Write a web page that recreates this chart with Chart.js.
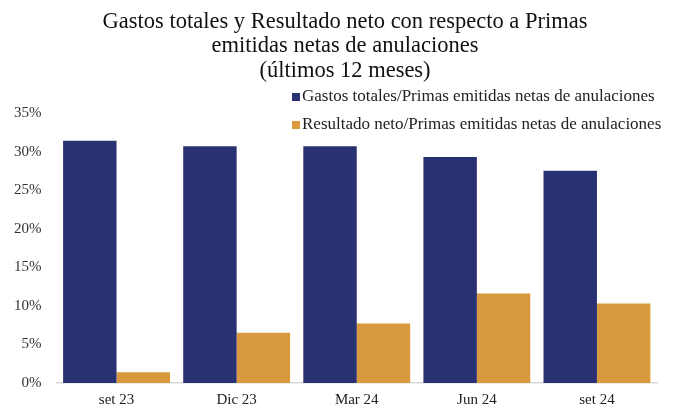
<!DOCTYPE html>
<html>
<head>
<meta charset="utf-8">
<script src="https://cdn.jsdelivr.net/npm/chart.js@4.4.1/dist/chart.umd.min.js"></script>
<style>
  html, body { margin: 0; padding: 0; background: #fff; }
  #wrap { position: relative; width: 683px; height: 413px; }
</style>
</head>
<body>
<div id="wrap"><canvas id="grafica" width="683" height="413"></canvas></div>
<script>
// Datos del gráfico
const categorias = ['set 23', 'Dic 23', 'Mar 24', 'Jun 24', 'set 24'];
const gastosTotales = [31.4, 30.7, 30.7, 29.3, 27.5];
const resultadoNeto = [1.4, 6.5, 7.7, 11.6, 10.3];
const etiquetasSeries = [
  'Gastos totales/Primas emitidas netas de anulaciones',
  'Resultado neto/Primas emitidas netas de anulaciones'
];
const titulo = [
  'Gastos totales y Resultado neto con respecto a Primas',
  'emitidas netas de anulaciones',
  '(últimos 12 meses)'
];

const fuente = '"Liberation Serif", "DejaVu Serif", serif';

// Título y leyenda dibujados a mano (la leyenda se superpone al área del gráfico)
const tituloLeyenda = {
  id: 'tituloLeyenda',
  afterDraw(chart) {
    const ctx = chart.ctx;
    ctx.save();
    ctx.fillStyle = '#111';
    ctx.textAlign = 'center';
    ctx.textBaseline = 'middle';
    ctx.font = '22.5px ' + fuente;
    titulo.forEach((t, i) => ctx.fillText(t, 345, 22 + i * 24.5));

    ctx.textAlign = 'left';
    ctx.font = '17px ' + fuente;
    chart.data.datasets.forEach((ds, i) => {
      const y = 97 + i * 28;
      ctx.fillStyle = ds.backgroundColor;
      ctx.fillRect(292, y - 4, 8, 8);
      ctx.fillStyle = '#222';
      ctx.fillText(ds.label, 302, y);
    });
    ctx.restore();
  }
};

new Chart(document.getElementById('grafica'), {
  type: 'bar',
  data: {
    labels: categorias,
    datasets: [
      {
        label: etiquetasSeries[0],
        data: gastosTotales,
        backgroundColor: '#2A3172',
        borderWidth: 0
      },
      {
        label: etiquetasSeries[1],
        data: resultadoNeto,
        backgroundColor: '#D89A3C',
        borderWidth: 0
      }
    ]
  },
  options: {
    responsive: false,
    animation: false,
    layout: {
      padding: { top: 113, left: -1, right: 26, bottom: -4 }
    },
    datasets: {
      bar: { categoryPercentage: 0.89, barPercentage: 1 }
    },
    plugins: {
      legend: { display: false },
      title: { display: false },
      tooltip: { enabled: false }
    },
    scales: {
      x: {
        grid: { display: false, drawTicks: false, tickLength: 0 },
        border: { display: true, color: '#D9D9D9', width: 1.5 },
        ticks: { color: '#222', font: { family: fuente, size: 15 }, padding: 8 }
      },
      y: {
        min: 0,
        max: 35,
        grid: { display: false, drawTicks: false, tickLength: 0 },
        border: { display: false },
        ticks: {
          stepSize: 5,
          color: '#333',
          padding: 15,
          font: { family: fuente, size: 15 },
          callback: v => v + '%'
        }
      }
    }
  },
  plugins: [tituloLeyenda]
});
</script>
</body>
</html>
